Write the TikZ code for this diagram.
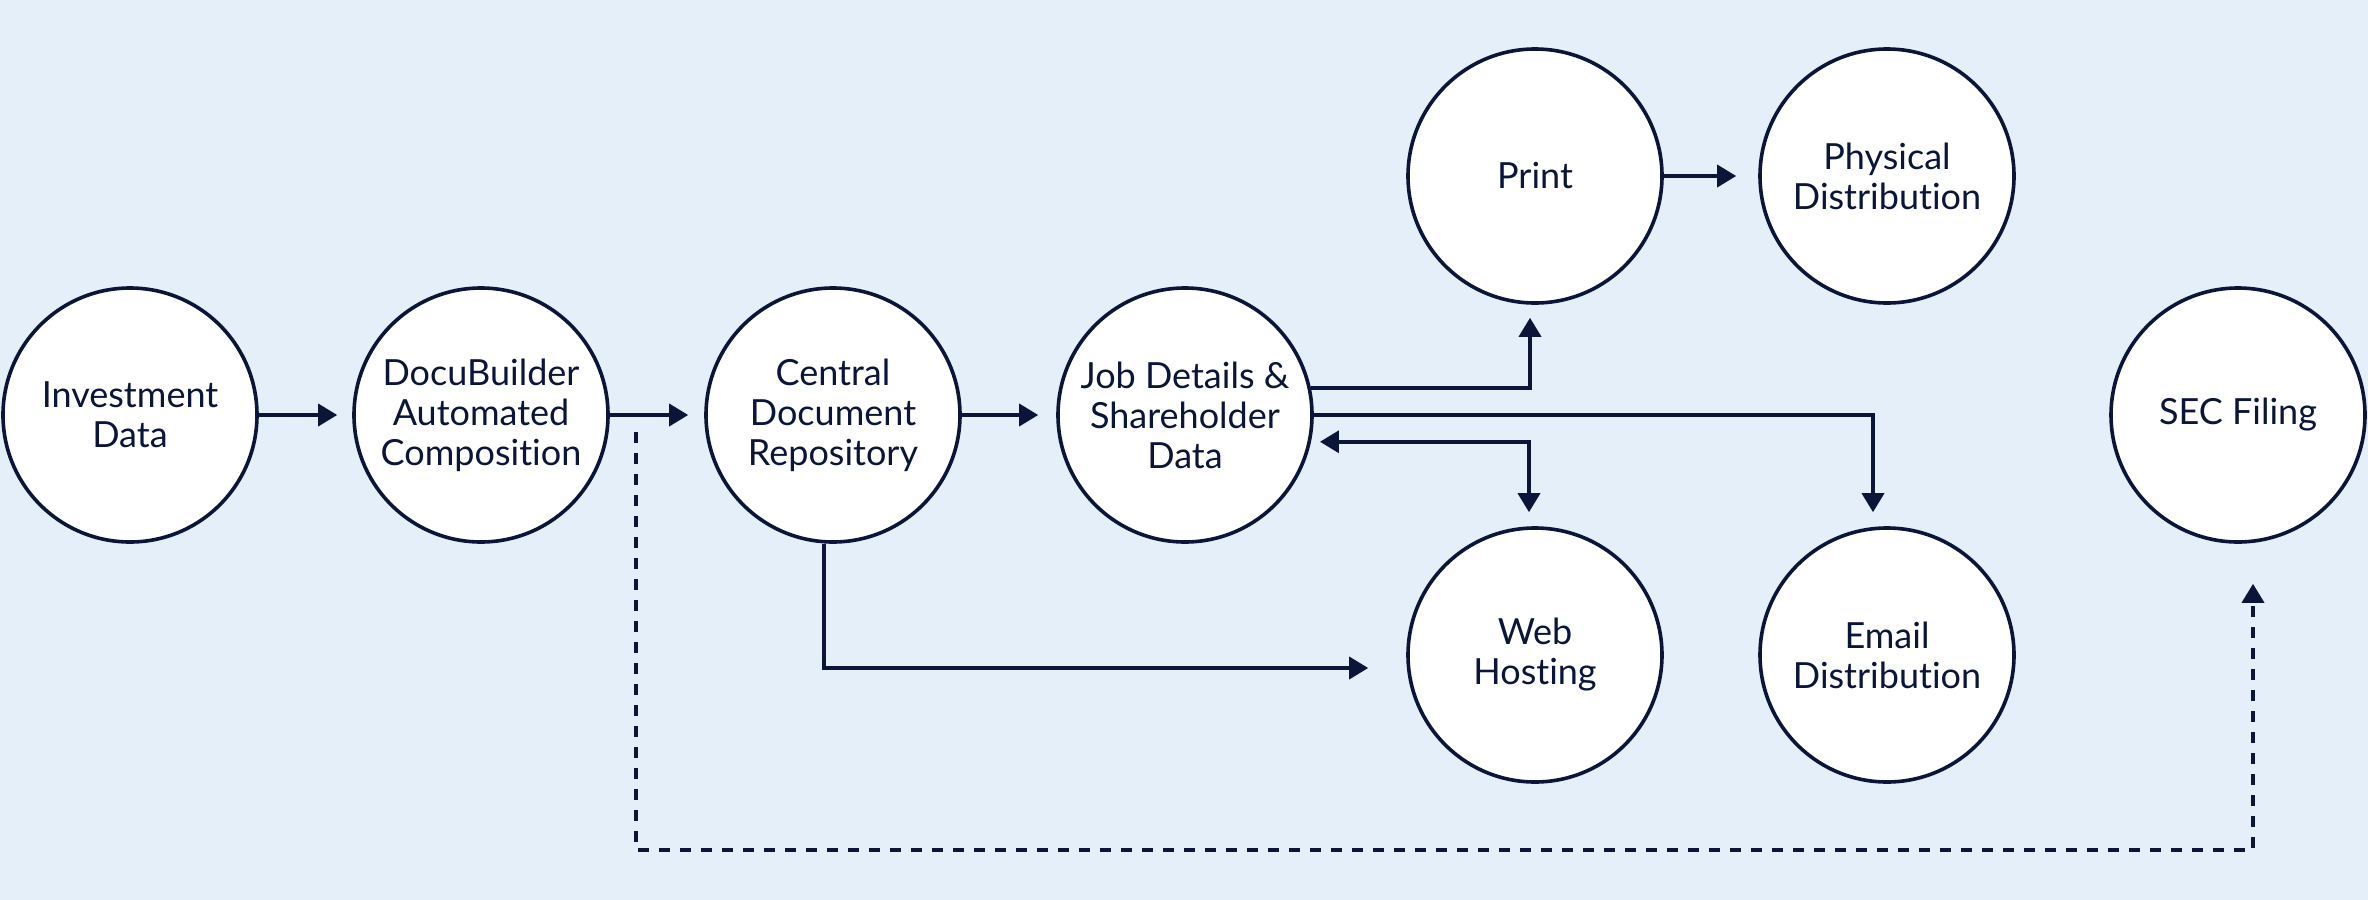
\documentclass[tikz,border=0pt]{standalone}
\usepackage{fontspec}
\setmainfont{Lato}[Ligatures=NoCommon,RawFeature={-liga;-clig;-dlig}]
\usetikzlibrary{arrows.meta}
\definecolor{bgblue}{HTML}{E4EFFA}
\definecolor{navy}{HTML}{0B1538}
\tikzset{
  stage/.style={circle, draw=navy, fill=white, line width=1.8pt, minimum size=127pt, inner sep=0pt,
    align=center, text=navy, font=\fontsize{18}{20}\selectfont},
  arr/.style={draw=navy, line width=1.8pt, -{Triangle[length=9.5pt,width=11pt]}},
  darr/.style={draw=navy, line width=1.8pt, {Triangle[length=9.5pt,width=11pt]}-{Triangle[length=9.5pt,width=11pt]}},
  dasharr/.style={arr, dash pattern=on 5.5pt off 5pt},
}
\begin{document}
\begin{tikzpicture}[x=0.5pt,y=-0.5pt]
\fill[bgblue] (0,0) rectangle (2368,900);
\useasboundingbox (0,0) rectangle (2368,900);
\node[stage] (inv) at (130,415) {Investment\\Data};
\node[stage] (docu) at (481,415) {DocuBuilder\\Automated\\Composition};
\node[stage] (central) at (833,415) {Central\\Document\\Repository};
\node[stage] (job) at (1185,415) {Job Details \&\\Shareholder\\Data};
\node[stage] (print) at (1535,176) {Print};
\node[stage] (phys) at (1887,176) {Physical\\Distribution};
\node[stage] (web) at (1535,655) {Web\\Hosting};
\node[stage] (email) at (1887,655) {Email\\Distribution};
\node[stage] (sec) at (2238,415) {SEC Filing};
\coordinate (dstart) at (636,432);
\coordinate (dlow) at (0,850);
\coordinate (dend) at ([xshift=7.5pt,yshift=-20pt]sec.south);

\draw[arr, shorten >=7.5pt] (inv) -- (docu);
\draw[arr, shorten >=8pt] (docu) -- (central);
\draw[arr, shorten >=9pt] (central) -- (job);
\draw[arr, shorten >=11pt] (print) -- (phys);
\draw[arr] (job.12.2) -| ([xshift=-2.5pt,yshift=-6.5pt]print.south);
\draw[arr] (job.east) -| ([xshift=-7pt,yshift=7pt]email.north);
\draw[darr, shorten <=4.5pt] (job.-12.2) -| ([xshift=-3pt,yshift=7pt]web.north);
\draw[arr] ([xshift=-4.5pt]central.south) |- ([xshift=-19pt,yshift=-6.5pt]web.west);
\draw[dasharr] (dstart) -- (dstart |- dlow) -- (dend |- dlow) -- (dend);
\end{tikzpicture}
\end{document}
